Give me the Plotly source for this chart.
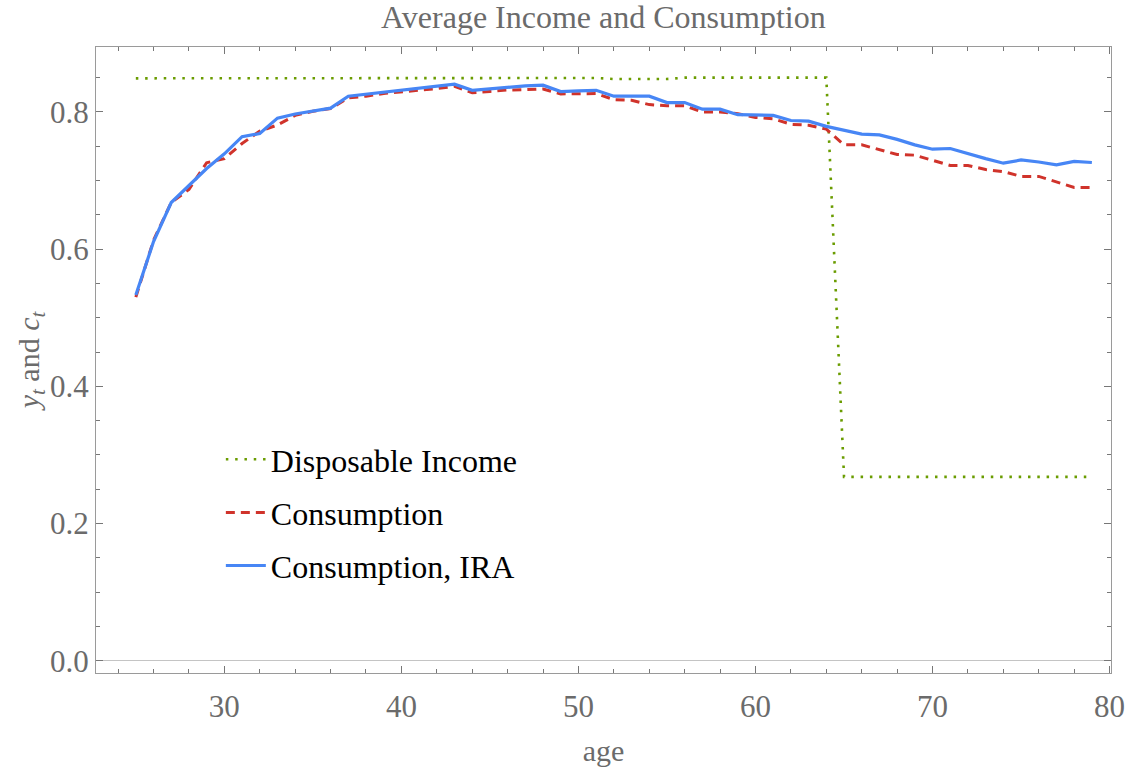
import plotly.graph_objects as go

ages = list(range(25, 80))

disposable_income = (
    [0.849] * 12            # 25-36
    + [0.850] * 7           # 37-43
    + [0.8495] * 8          # 44-51
    + [0.848] * 4           # 52-55
    + [0.850] * 9           # 56-64
    + [0.268] * 15          # 65-79
)

consumption = [
    0.530, 0.613, 0.668, 0.687, 0.726, 0.732, 0.754, 0.772, 0.781, 0.795,
    0.801, 0.805, 0.8205, 0.823, 0.827, 0.829, 0.832, 0.834, 0.8375, 0.828,
    0.830, 0.832, 0.8325, 0.8335, 0.8263, 0.8263, 0.8268, 0.818, 0.817, 0.8107,
    0.809, 0.809, 0.800, 0.800, 0.7975, 0.792, 0.790, 0.782, 0.7807, 0.775,
    0.752, 0.752, 0.7452, 0.738, 0.737, 0.7297, 0.722, 0.722, 0.716, 0.713,
    0.706, 0.706, 0.698, 0.690, 0.690,
]

consumption_ira = [
    0.533, 0.611, 0.668, 0.692, 0.7175, 0.739, 0.764, 0.7685, 0.791, 0.797,
    0.801, 0.8055, 0.823, 0.826, 0.829, 0.832, 0.834, 0.8375, 0.8404, 0.8316,
    0.834, 0.836, 0.838, 0.839, 0.8297, 0.8306, 0.8316, 0.823, 0.823, 0.823,
    0.8137, 0.8137, 0.804, 0.804, 0.796, 0.796, 0.795, 0.7875, 0.7865, 0.779,
    0.7734, 0.7676, 0.7666, 0.760, 0.752, 0.7457, 0.7467, 0.739, 0.732, 0.7253,
    0.730, 0.727, 0.723, 0.728, 0.7263,
]

x_ticks = [30, 40, 50, 60, 70, 80]
y_ticks = [0.0, 0.2, 0.4, 0.6, 0.8]

FONT = "Liberation Serif"
GRAY = "#6b6b6b"
FRAME = "#9a9a9a"

fig = go.Figure()
fig.add_trace(go.Scatter(
    x=ages, y=disposable_income, mode="lines", name="Disposable Income",
    legendgroup="a",
    line=dict(color="#6a9c00", width=2.6, dash="2.5px,6.8px"),
))
fig.add_trace(go.Scatter(
    x=ages, y=consumption, mode="lines", name="Consumption",
    legendgroup="b",
    line=dict(color="#d0332b", width=3, dash="9px,6px"),
))
fig.add_trace(go.Scatter(
    x=ages, y=consumption_ira, mode="lines", name="Consumption, IRA",
    legendgroup="c",
    line=dict(color="#4786f5", width=3.2),
))

axis_common = dict(
    showline=True, linecolor=FRAME, linewidth=1.2, mirror="allticks",
    ticks="inside", tickcolor="#777777", tickwidth=1, ticklen=7,
    showgrid=False, automargin=False,
    tickfont=dict(family=FONT, size=31, color=GRAY),
)

fig.update_xaxes(
    **axis_common,
    range=[22.75, 80.08],
    tickvals=x_ticks,
    ticktext=[str(v) for v in x_ticks],
    minor=dict(dtick=2, tick0=0, ticks="inside", ticklen=4, tickcolor="#777777", tickwidth=1, showgrid=False),
    zeroline=False,
    ticklabelstandoff=6,
    title=dict(text="age", font=dict(family=FONT, size=30, color=GRAY), standoff=20),
)
fig.update_yaxes(
    **axis_common,
    range=[-0.018, 0.8947],
    tickvals=y_ticks,
    ticktext=["%.1f" % v for v in y_ticks],
    minor=dict(dtick=0.05, tick0=0, ticks="inside", ticklen=4, tickcolor="#777777", tickwidth=1, showgrid=False),
    zeroline=True, zerolinecolor="#c4c4c4", zerolinewidth=1.2,
    title=dict(text="<i>y</i><sub><i>t</i></sub> and <i>c</i><sub><i>t</i></sub>",
               font=dict(family=FONT, size=30, color=GRAY), standoff=0),
)

fig.update_layout(
    width=1130, height=767,
    margin=dict(l=96, r=19, t=47, b=94),
    paper_bgcolor="white", plot_bgcolor="white",
    title=dict(text="Average Income and Consumption", x=0.534, xanchor="center",
               y=0.978, yanchor="middle", yref="container",
               font=dict(family=FONT, size=32, color=GRAY)),
    showlegend=True,
    legend=dict(x=0.123, y=0.385, xanchor="left", yanchor="top",
                bgcolor="rgba(0,0,0,0)", tracegroupgap=8.5,
                font=dict(family=FONT, size=32, color="black"),
                itemwidth=40),
)

fig.write_html("out.html", config={"displayModeBar": False},
               post_script="document.body.style.margin='0';document.body.style.overflow='hidden';")
